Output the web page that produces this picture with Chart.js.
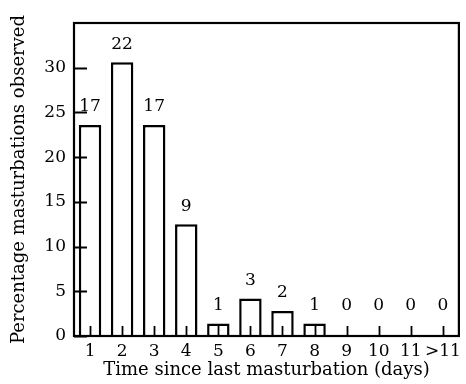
<!DOCTYPE html>
<html>
<head>
<meta charset="utf-8">
<script src="https://cdn.jsdelivr.net/npm/chart.js@4/dist/chart.umd.min.js"></script>
<style>
  html, body { margin: 0; padding: 0; background: #fff; }
  canvas { display: block; }
</style>
</head>
<body>
<canvas id="chart" width="466" height="384"></canvas>
<script>
// Days since the previous masturbation (x categories)
const days = ['1', '2', '3', '4', '5', '6', '7', '8', '9', '10', '11', '>11'];
// Number of observed masturbations per interval (printed above the bars)
const counts = [17, 22, 17, 9, 1, 3, 2, 1, 0, 0, 0, 0];
// Same observations as a percentage of the total (bar heights)
const percentObserved = [23.6, 30.6, 23.6, 12.5, 1.4, 4.2, 2.8, 1.4, 0, 0, 0, 0];
// Labelled y ticks
const yTicks = [0, 5, 10, 15, 20, 25, 30];

const SERIF = '"DejaVu Serif", "Liberation Serif", serif';

// Boxed frame, inward tick marks and count labels above each bar
const frameAndLabels = {
  id: 'frameAndLabels',
  afterDatasetsDraw(chart) {
    const { ctx, chartArea: a, scales: { x, y } } = chart;
    ctx.save();
    ctx.strokeStyle = '#000';
    ctx.lineWidth = 1.8;
    ctx.beginPath();
    y.ticks.forEach(t => {
      const py = Math.round(y.getPixelForValue(t.value)) + 0.5;
      ctx.moveTo(a.left, py);
      ctx.lineTo(a.left + 13, py);
    });
    x.ticks.forEach((t, i) => {
      const px = Math.round(x.getPixelForTick(i)) + 0.5;
      ctx.moveTo(px, a.bottom);
      ctx.lineTo(px, a.bottom - 10);
    });
    ctx.stroke();

    ctx.lineWidth = 2.2;
    ctx.strokeRect(a.left, a.top, a.right - a.left, a.bottom - a.top);

    ctx.font = '17px ' + SERIF;
    ctx.fillStyle = '#000';
    ctx.textAlign = 'center';
    ctx.textBaseline = 'middle';
    chart.getDatasetMeta(0).data.forEach((bar, i) => {
      const ly = percentObserved[i] === 0 ? a.bottom - 30 : bar.y - 18;
      ctx.fillText(String(counts[i]), bar.x, ly);
    });
    ctx.restore();
  }
};

new Chart(document.getElementById('chart'), {
  type: 'bar',
  data: {
    labels: days,
    datasets: [{
      data: percentObserved,
      backgroundColor: '#ffffff',
      borderColor: '#000000',
      borderWidth: 2.5,
      borderSkipped: 'start',
      barPercentage: 0.7,
      categoryPercentage: 1.0
    }]
  },
  options: {
    responsive: false,
    devicePixelRatio: 1,
    animation: false,
    layout: { padding: { left: 0, right: 5, top: 23, bottom: 0 } },
    plugins: {
      legend: { display: false },
      tooltip: { enabled: false }
    },
    scales: {
      x: {
        offset: true,
        grid: { display: false, drawTicks: false },
        border: { display: false },
        ticks: {
          padding: 5,
          color: '#000',
          font: { family: SERIF, size: 17 },
          maxRotation: 0,
          autoSkip: false
        },
        title: {
          display: true,
          text: 'Time since last masturbation (days)',
          color: '#000',
          font: { family: SERIF, size: 18 },
          padding: { top: 0, bottom: 3 }
        },
        afterFit(scale) { scale.height = 48; }
      },
      y: {
        min: 0,
        max: 35,
        grid: { display: false, drawTicks: false },
        border: { display: false },
        ticks: {
          stepSize: 5,
          padding: 8,
          color: '#000',
          font: { family: SERIF, size: 17 }
        },
        afterBuildTicks(scale) {
          scale.ticks = yTicks.map(v => ({ value: v }));
        },
        title: {
          display: true,
          text: 'Percentage masturbations observed',
          color: '#000',
          font: { family: SERIF, size: 18 },
          padding: { top: 9, bottom: 0 }
        },
        afterFit(scale) { scale.width = 74; }
      }
    }
  },
  plugins: [frameAndLabels]
});
</script>
</body>
</html>
